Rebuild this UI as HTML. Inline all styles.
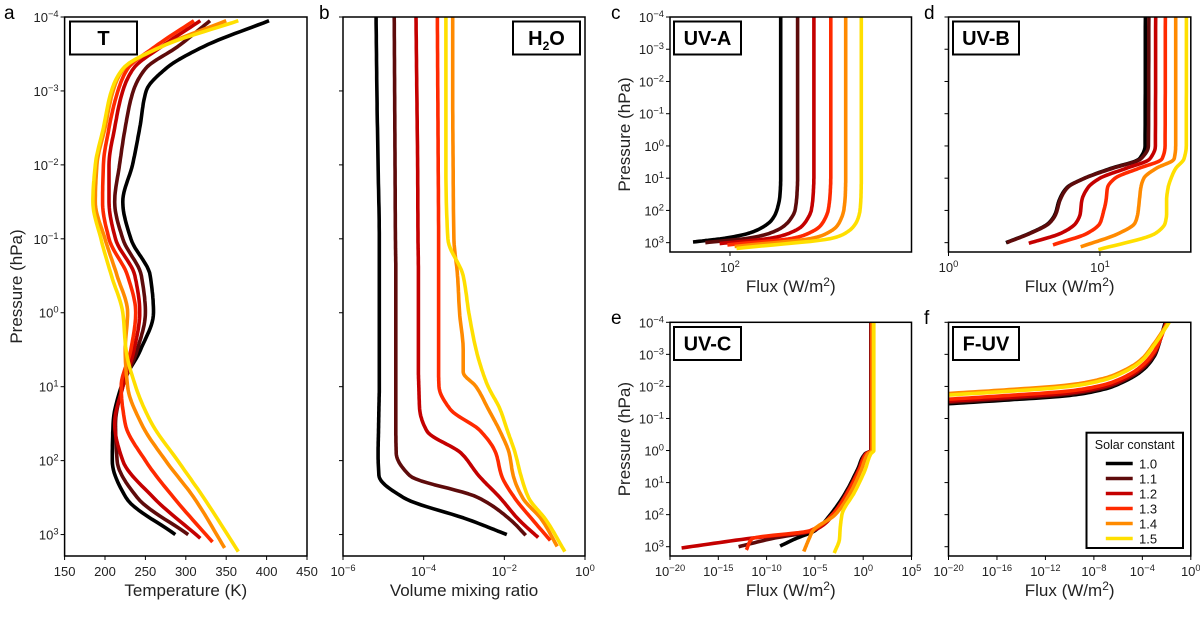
<!DOCTYPE html>
<html><head><meta charset="utf-8">
<style>
html,body{margin:0;padding:0;background:#fff;}
svg{display:block;font-family:"Liberation Sans",sans-serif;}
</style></head>
<body>
<svg id="fig" width="1200" height="618" viewBox="0 0 1200 618" xmlns="http://www.w3.org/2000/svg"></svg>
<script>
const seriesColors = ['#000000','#5e0b0b','#c40000','#ff2a00','#ff8a00','#ffdf00'];
const seriesLabels = ['1.0','1.1','1.2','1.3','1.4','1.5'];

// Panel a: temperature (K) vs log10 pressure
const tempP = [-3.95,-3.6,-3.3,-3,-2.5,-2,-1.5,-1,-0.5,0,0.5,1,1.5,2,2.5];
const tempBlack   = [403,322,275,251,243,234,222,232,256,260,244,220,210,209,226];
const tempDarkRed = [330,290,250,235,225,218,212,222,245,250,240,222,213,215,240];
const tempRed     = [318,270,235,222,212,205,205,213,237,243,236,222,212,222,260];
const tempRedOr   = [310,262,228,216,205,198,197,205,228,238,232,220,225,250,285];
const tempOrange  = [350,270,223,210,200,190,188,200,215,228,225,228,245,275,310];
const tempYellow  = [365,270,222,208,198,188,185,195,208,222,226,238,258,290,322];
const tempBottomP = [3.0,3.0,3.05,3.1,3.18,3.23];
const tempBottomK = [287,303,318,333,348,365];

// Panel b: log10 H2O VMR
const h2oP = [-4,-3,-2,-1,-0.5,0,0.5,0.8,1,1.3,1.6,1.9,2.2,2.5,2.8];
const h2oBlack   = [-5.18,-5.16,-5.13,-5.1,-5.1,-5.1,-5.1,-5.1,-5.1,-5.11,-5.12,-5.13,-5.11,-4.5,-2.88];
const h2oDarkRed = [-4.73,-4.72,-4.71,-4.7,-4.69,-4.69,-4.69,-4.69,-4.69,-4.69,-4.69,-4.68,-4.35,-2.65,-1.85];
const h2oRed     = [-4.19,-4.17,-4.15,-4.14,-4.13,-4.13,-4.13,-4.13,-4.12,-4.1,-3.92,-3.07,-2.64,-2.11,-1.64];
const h2oRedOr   = [-3.66,-3.65,-3.64,-3.63,-3.63,-3.63,-3.63,-3.63,-3.62,-3.35,-2.59,-2.21,-2.07,-1.75,-1.3];
const h2oOrange  = [-3.28,-3.28,-3.27,-3.25,-3.16,-3.11,-3.02,-3.02,-2.7,-2.4,-2.11,-1.88,-1.78,-1.55,-1.07];
const h2oYellow  = [-3.45,-3.45,-3.45,-3.4,-3.02,-2.88,-2.7,-2.54,-2.4,-2.11,-1.92,-1.73,-1.59,-1.4,-0.97];
const h2oBottomP = [3.0,3.01,3.04,3.08,3.16,3.23];
const h2oBottomV = [-1.94,-1.47,-1.16,-0.86,-0.69,-0.5];

// Panel c: UV-A log10 flux
const uvaP = [-4,1,1.5,2,2.3,2.5,2.7,2.85];
const uvaBlack   = [2.39,2.39,2.385,2.36,2.32,2.26,2.15,1.98];
const uvaDarkRed = [2.52,2.52,2.515,2.5,2.46,2.41,2.31,2.16];
const uvaRed     = [2.645,2.645,2.64,2.625,2.59,2.55,2.46,2.33];
const uvaRedOr   = [2.775,2.775,2.77,2.755,2.725,2.69,2.61,2.5];
const uvaOrange  = [2.89,2.89,2.887,2.875,2.85,2.82,2.75,2.65];
const uvaYellow  = [3.01,3.01,3.008,3.0,2.98,2.95,2.89,2.8];
const uvaBottomP = [2.98,3.0,3.03,3.07,3.12,3.18];
const uvaBottomF = [1.715,1.81,1.92,1.98,2.035,2.05];

// Panel d: UV-B log10 flux
const uvbP = [-4,0,0.4,0.7,1.0,1.3,1.7,2.1,2.4,2.7];
const uvbBlack   = [1.30,1.298,1.26,1.07,0.898,0.78,0.73,0.705,0.66,0.54];
const uvbDarkRed = [1.323,1.32,1.27,1.08,0.90,0.785,0.735,0.71,0.665,0.545];
const uvbRed     = [1.368,1.366,1.33,1.17,1.0,0.92,0.88,0.87,0.84,0.746];
const uvbRedOr   = [1.432,1.43,1.41,1.254,1.10,1.05,1.04,1.02,1.0,0.92];
const uvbOrange  = [1.50,1.50,1.49,1.37,1.29,1.27,1.26,1.25,1.23,1.13];
const uvbYellow  = [1.571,1.57,1.555,1.50,1.47,1.45,1.44,1.44,1.43,1.37];
const uvbBottomP = [3.0,3.0,3.02,3.07,3.13,3.22];
const uvbBottomF = [0.38,0.385,0.53,0.69,0.873,0.99];

// Panel e: UV-C log10 flux
const uvcP = [-4,0,0.1,0.6,1.3,2.0,2.5,2.75];
const uvcBlack   = [0.8,0.8,0.2,-0.6,-1.8,-3.4,-5.0,-7.0];
const uvcDarkRed = [0.82,0.82,0.25,-0.5,-1.7,-3.2,-5.2,-9.5];
const uvcRed     = [0.83,0.83,0.3,-0.45,-1.6,-3.1,-5.2,-12];
const uvcRedOr   = [0.88,0.88,0.35,-0.4,-1.6,-3.2,-5.5,-11.5];
const uvcOrange  = [0.94,0.94,0.5,-0.2,-1.3,-2.9,-5.2,-5.6];
const uvcYellow  = [1.1,1.1,0.8,0.2,-0.9,-2.2,-2.4,-2.45];
const uvcBottomP = [2.98,3.0,3.04,3.1,3.15,3.2];
const uvcBottomF = [-8.6,-12.9,-18.8,-12.1,-6.15,-3.0];

// Panel f: F-UV, log10 pressure at given log10 flux
const fuvF = [-20,-15,-10,-7,-5,-4,-3];
const fuvBlack   = [-1.46,-1.58,-1.72,-1.93,-2.25,-2.5,-2.95];
const fuvDarkRed = [-1.5,-1.62,-1.76,-1.97,-2.29,-2.55,-3.0];
const fuvRed     = [-1.54,-1.66,-1.8,-2.01,-2.33,-2.6,-3.05];
const fuvRedOr   = [-1.6,-1.72,-1.86,-2.07,-2.39,-2.66,-3.1];
const fuvOrange  = [-1.78,-1.9,-2.05,-2.27,-2.6,-2.87,-3.35];
const fuvYellow  = [-1.73,-1.85,-2.0,-2.22,-2.55,-2.82,-3.3];
const fuvTopF = [-2.1,-2.05,-2.0,-1.95,-1.85,-1.78];

const NS='http://www.w3.org/2000/svg';
const svg=document.getElementById('fig');
function mk(tag,attrs,parent){const e=document.createElementNS(NS,tag);for(const k in attrs)e.setAttribute(k,attrs[k]);(parent||svg).appendChild(e);return e;}
function sup(parent,x,y,base,exp,anchor,size){
  const t=mk('text',{x:x,y:y,'text-anchor':anchor,'font-size':size,fill:'#222'},parent);
  t.appendChild(document.createTextNode(base));
  const s=mk('tspan',{dy:-5,'font-size':size*0.72},t);s.textContent=exp;
  return t;
}
// monotone cubic (Fritsch-Carlson) of a(t) along parameter t (monotone), sampled densely
function monoSample(t,a){
  const n=t.length;if(n<3){return t.map((v,i)=>[a[i],v]);}
  const d=[],m=new Array(n);
  for(let i=0;i<n-1;i++)d.push((a[i+1]-a[i])/(t[i+1]-t[i]));
  m[0]=d[0];m[n-1]=d[n-2];
  for(let i=1;i<n-1;i++){ if(d[i-1]*d[i]<=0)m[i]=0; else {const h0=t[i]-t[i-1],h1=t[i+1]-t[i];const w1=2*h1+h0,w2=h1+2*h0;m[i]=(w1+w2)/(w1/d[i-1]+w2/d[i]);} }
  const out=[];
  for(let i=0;i<n-1;i++){
    const h=t[i+1]-t[i];const steps=12;
    for(let s=0;s<steps;s++){const u=s/steps;
      const h00=2*u*u*u-3*u*u+1,h10=u*u*u-2*u*u+u,h01=-2*u*u*u+3*u*u,h11=u*u*u-u*u;
      out.push([h00*a[i]+h10*h*m[i]+h01*a[i+1]+h11*h*m[i+1], t[i]+u*h]);}
  }
  out.push([a[n-1],t[n-1]]);
  return out;
}
function pathFrom(pts){return 'M'+pts.map(p=>p[0].toFixed(1)+','+p[1].toFixed(1)).join(' L');}
const Y0=-4,Y1=3.29;
function makePanel(name,box,xd){
  const g=mk('g',{});
  
  
  const sx=v=>box.l+(v-xd[0])/(xd[1]-xd[0])*(box.r-box.l);
  const sy=v=>box.t+(v-Y0)/(Y1-Y0)*(box.b-box.t);
  return {g,sx,sy,box};
}
function frame(P,yLabels,yTitle){
  const {g,sy,box}=P;
  for(let e=-4;e<=3;e++){
    const y=sy(e);
    const tk=mk('line',{x1:box.l-4,x2:box.l,y1:y,y2:y,stroke:'#000','stroke-width':1},g);
    
    
    if(yLabels){const t=sup(g,box.l-6,y+5,'10',(e<0?'\u2212':'')+Math.abs(e),'end',13);
      
      }
  }
  if(yTitle){const cy=(box.t+box.b)/2;const t=mk('text',{x:0,y:0,transform:'translate('+yTitle+','+cy+') rotate(-90)','text-anchor':'middle','font-size':17,fill:'#222'},g);t.textContent='Pressure (hPa)';
    
    }
}
function border(P){
  const {g,box}=P;
  const r=mk('rect',{x:box.l,y:box.t,width:box.r-box.l,height:box.b-box.t,fill:'none',stroke:'#000','stroke-width':1.5},g);
  
  
}
function xTicksLog(P,exps){
  for(const e of exps){const x=P.sx(e);
    const tk=mk('line',{x1:x,x2:x,y1:P.box.b,y2:P.box.b+4,stroke:'#000','stroke-width':1},P.g);
    
    
    const t=sup(P.g,x,P.box.b+20,'10',(e<0?'\u2212':'')+Math.abs(e),'middle',13);
    
    }
}
function xTitle(P,txt,y,flux){
  const cx=(P.box.l+P.box.r)/2;
  const t=mk('text',{x:cx,y:y,'text-anchor':'middle','font-size':17,fill:'#222'},P.g);
  if(flux){t.appendChild(document.createTextNode('Flux (W/m'));const s=mk('tspan',{dy:-6,'font-size':12},t);s.textContent='2';const s2=mk('tspan',{dy:6},t);s2.textContent=')';}
  else t.textContent=txt;
  
  
}
function tagBox(P,x,y,w,h,txt,sub){
  const r=mk('rect',{x:x,y:y,width:w,height:h,fill:'#fff',stroke:'#000','stroke-width':2},P.g);
  
  
  const t=mk('text',{x:x+w/2,y:y+h/2+7,'text-anchor':'middle','font-size':20,'font-weight':'bold',fill:'#000'},P.g);
  if(sub){t.appendChild(document.createTextNode('H'));const s=mk('tspan',{dy:5,'font-size':12},t);s.textContent='2';const s2=mk('tspan',{dy:-5},t);s2.textContent='O';}
  else t.textContent=txt;
  
  
}
function letter(x,y,c){const t=mk('text',{x:x,y:y,'font-size':19,fill:'#000'});t.textContent=c;
  
  }
function drawSeries(P,pArr,vArr,bp,bv,i,prefix){
  const ps=pArr.slice(),vs=vArr.slice();
  if(bp!==null){ps.push(bp);vs.push(bv);}
  const pts=monoSample(ps,vs).map(q=>[P.sx(q[0]),P.sy(q[1])]);
  const path=mk('path',{d:pathFrom(pts),fill:'none',stroke:seriesColors[i],'stroke-width':3.6,'stroke-linejoin':'round','stroke-linecap':'butt'},P.g);
  
  
}
function clip(P,id){
  const cp=mk('clipPath',{id:id});mk('rect',{x:P.box.l,y:P.box.t,width:P.box.r-P.box.l,height:P.box.b-P.box.t},cp);
  const g=mk('g',{'clip-path':'url(#'+id+')'},P.g);
  
  
  return {g:g,sx:P.sx,sy:P.sy,box:P.box};
}

// Panel a
const A=makePanel('panel-a-temperature',{l:64.6,r:307,t:17,b:556},[150,450]);
frame(A,true,22);
const tempAll=[tempBlack,tempDarkRed,tempRed,tempRedOr,tempOrange,tempYellow];
const Ac=clip(A,'ca');
tempAll.forEach((s,i)=>drawSeries(Ac,tempP,s,tempBottomP[i],tempBottomK[i],i,'temperature'));
border(A);
[150,200,250,300,350,400,450].forEach(v=>{const x=A.sx(v);
  const tk=mk('line',{x1:x,x2:x,y1:A.box.b,y2:A.box.b+4,stroke:'#000'},A.g);
  
  
  const t=mk('text',{x:x,y:A.box.b+20,'text-anchor':'middle','font-size':13,fill:'#222'},A.g);t.textContent=v;
  
  });
xTitle(A,'Temperature (K)',596,false);
tagBox(A,70,21.5,67,33,'T',false);
letter(4,19,'a');

// Panel b
const B=makePanel('panel-b-water-vapour',{l:343,r:585,t:17,b:556},[-6,0]);
frame(B,false,null);
const h2oAll=[h2oBlack,h2oDarkRed,h2oRed,h2oRedOr,h2oOrange,h2oYellow];
const Bc=clip(B,'cb');
h2oAll.forEach((s,i)=>drawSeries(Bc,h2oP,s,h2oBottomP[i],h2oBottomV[i],i,'h2o'));
border(B);
xTicksLog(B,[-6,-4,-2,0]);
xTitle(B,'Volume mixing ratio',596,false);
tagBox(B,513,21.5,67,33,'',true);
letter(319,19,'b');

// Panel c
const C=makePanel('panel-c-uva',{l:670,r:911.5,t:17,b:252},[2-60/130,2+181.5/130]);
frame(C,true,630);
const uvaAll=[uvaBlack,uvaDarkRed,uvaRed,uvaRedOr,uvaOrange,uvaYellow];
const Cc=clip(C,'cc');
uvaAll.forEach((s,i)=>drawSeries(Cc,uvaP,s,uvaBottomP[i],uvaBottomF[i],i,'uva'));
border(C);
xTicksLog(C,[2]);
xTitle(C,'',292,true);
tagBox(C,674,21.5,67,33,'UV-A',false);
letter(611,19,'c');

// Panel d
const D=makePanel('panel-d-uvb',{l:948.5,r:1190.8,t:17,b:252},[0,1.6]);
frame(D,false,null);
const uvbAll=[uvbBlack,uvbDarkRed,uvbRed,uvbRedOr,uvbOrange,uvbYellow];
const Dc=clip(D,'cd');
uvbAll.forEach((s,i)=>drawSeries(Dc,uvbP,s,uvbBottomP[i],uvbBottomF[i],i,'uvb'));
border(D);
xTicksLog(D,[0,1]);
xTitle(D,'',292,true);
tagBox(D,953,21.5,66,33,'UV-B',false);
letter(924,19,'d');

// Panel e
const E=makePanel('panel-e-uvc',{l:670,r:911.5,t:322.3,b:556},[-20,5]);
frame(E,true,630);
const uvcAll=[uvcBlack,uvcDarkRed,uvcRed,uvcRedOr,uvcOrange,uvcYellow];
const Ec=clip(E,'ce');
uvcAll.forEach((s,i)=>drawSeries(Ec,uvcP,s,uvcBottomP[i],uvcBottomF[i],i,'uvc'));
border(E);
xTicksLog(E,[-20,-15,-10,-5,0,5]);
xTitle(E,'',596,true);
tagBox(E,674,327,67,33,'UV-C',false);
letter(611,324,'e');

// Panel f
const F=makePanel('panel-f-fuv',{l:948.5,r:1190.8,t:322.3,b:556},[-20,0]);
frame(F,false,null);
const fuvAll=[fuvBlack,fuvDarkRed,fuvRed,fuvRedOr,fuvOrange,fuvYellow];
const Fc=clip(F,'cf');
fuvAll.forEach((s,i)=>{
  const fs=fuvF.concat([fuvTopF[i]]);
  const ps=s.concat([-4]);
  const pts=monoSample(fs,ps).map(q=>[F.sx(q[1]),F.sy(q[0])]);
  const path=mk('path',{d:pathFrom(pts),fill:'none',stroke:seriesColors[i],'stroke-width':3.6},Fc.g);
  
  
});
border(F);
xTicksLog(F,[-20,-16,-12,-8,-4,0]);
xTitle(F,'',596,true);
tagBox(F,953,327,66,33,'F-UV',false);
letter(924,324,'f');

// Legend
const lg=mk('g',{});


mk('rect',{x:1086.5,y:432.7,width:96.5,height:115.3,fill:'#fff',stroke:'#000','stroke-width':2},lg);
const lt=mk('text',{x:1134.7,y:449,'text-anchor':'middle','font-size':12.5,fill:'#111'},lg);lt.textContent='Solar constant';


seriesLabels.forEach((lab,i)=>{
  const y=463.5+i*15;
  const e=mk('g',{},lg);
  
  
  mk('line',{x1:1105.8,x2:1132.7,y1:y,y2:y,stroke:seriesColors[i],'stroke-width':3.6},e);
  const t=mk('text',{x:1139,y:y+5,'font-size':13,fill:'#111'},e);t.textContent=lab;
});
</script>
</body></html>
